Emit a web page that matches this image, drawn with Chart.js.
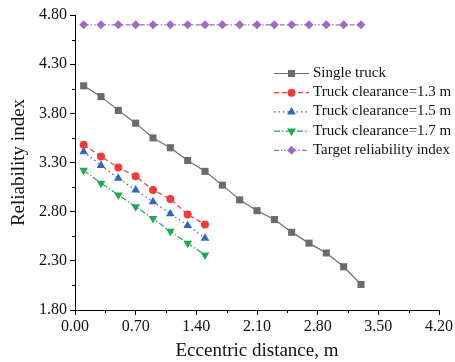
<!DOCTYPE html>
<html>
<head>
<meta charset="utf-8">
<script src="https://cdn.jsdelivr.net/npm/chart.js@4.4.0/dist/chart.umd.min.js"></script>
<style>
  html, body { margin: 0; padding: 0; background: #fff; }
  #wrap { width: 455px; height: 362px; position: relative; }
</style>
</head>
<body>
<div id="wrap"><canvas id="chart"></canvas></div>
<script>
// --- data ---
const singleX = [0.1, 0.3, 0.5, 0.7, 0.9, 1.1, 1.3, 1.5, 1.7, 1.9, 2.1, 2.3, 2.5, 2.7, 2.9, 3.1, 3.3];
const singleTruck = [4.08, 3.97, 3.83, 3.70, 3.55, 3.45, 3.32, 3.21, 3.07, 2.92, 2.81, 2.72, 2.59, 2.48, 2.38, 2.24, 2.06];
const clearanceX = [0.1, 0.3, 0.5, 0.7, 0.9, 1.1, 1.3, 1.5];
const clearance13 = [3.48, 3.36, 3.25, 3.16, 3.02, 2.93, 2.77, 2.67];
const clearance15 = [3.41, 3.27, 3.14, 3.02, 2.90, 2.78, 2.66, 2.53];
const clearance17 = [3.22, 3.09, 2.97, 2.85, 2.73, 2.60, 2.48, 2.36];
const targetIndex = [4.7, 4.7, 4.7, 4.7, 4.7, 4.7, 4.7, 4.7, 4.7, 4.7, 4.7, 4.7, 4.7, 4.7, 4.7, 4.7, 4.7];

const xTicks = [0, 0.7, 1.4, 2.1, 2.8, 3.5, 4.2];
const yTicks = [1.8, 2.3, 2.8, 3.3, 3.8, 4.3, 4.8];

const FONT = "'Liberation Serif', 'Times New Roman', serif";

function toPoints(xs, ys) {
    return ys.map((y, i) => ({ x: xs[i], y: y }));
}

function series(label, xs, ys, color, style, dash, radius, rotation) {
    return {
        label: label,
        data: toPoints(xs, ys),
        borderColor: color,
        backgroundColor: color,
        borderWidth: 1.2,
        borderDash: dash,
        pointStyle: style,
        pointRadius: radius,
        pointRotation: rotation || 0,
        pointBorderWidth: 0,
        pointBackgroundColor: color,
        tension: 0
    };
}

const datasets = [
    series('Single truck', singleX, singleTruck, '#6b6b6d', 'rect', [], 5),
    series('Truck clearance=1.3 m', clearanceX, clearance13, '#ee3b3b', 'circle', [5, 3], 4),
    series('Truck clearance=1.5 m', clearanceX, clearance15, '#3767bd', 'triangle', [1.5, 3], 5),
    series('Truck clearance=1.7 m', clearanceX, clearance17, '#23a655', 'triangle', [6, 2, 1.5, 2], 5, 180),
    series('Target reliability index', singleX, targetIndex, '#9b6cc0', 'rectRot', [5, 2, 1.5, 2, 1.5, 2], 4.5)
];

// minor ticks halfway between the labelled ones
const minorTicks = {
    id: 'minorTicks',
    afterDraw(chart) {
        const ctx = chart.ctx;
        const xs = chart.scales.x, ys = chart.scales.y;
        ctx.save();
        ctx.strokeStyle = '#000';
        ctx.lineWidth = 1;
        ctx.beginPath();
        for (let i = 0; i < xTicks.length - 1; i++) {
            const px = Math.round(xs.getPixelForValue((xTicks[i] + xTicks[i + 1]) / 2)) + 0.5;
            ctx.moveTo(px, xs.top);
            ctx.lineTo(px, xs.top + 3);
        }
        for (let i = 0; i < yTicks.length - 1; i++) {
            const py = Math.round(ys.getPixelForValue((yTicks[i] + yTicks[i + 1]) / 2)) + 0.5;
            ctx.moveTo(ys.right, py);
            ctx.lineTo(ys.right - 3, py);
        }
        ctx.stroke();
        ctx.restore();
    }
};

// legend with line sample + marker, placed inside the plot
const lineLegend = {
    id: 'lineLegend',
    afterDraw(chart) {
        const ctx = chart.ctx;
        const x0 = 274, x1 = 309, textX = 313;
        let y = 73;
        ctx.save();
        chart.data.datasets.forEach(ds => {
            ctx.strokeStyle = ds.borderColor;
            ctx.lineWidth = ds.borderWidth;
            ctx.setLineDash(ds.borderDash);
            ctx.beginPath();
            ctx.moveTo(x0, y + 0.5);
            ctx.lineTo(x1, y + 0.5);
            ctx.stroke();
            ctx.setLineDash([]);
            ctx.fillStyle = ds.pointBackgroundColor;
            Chart.helpers.drawPoint(ctx, {
                pointStyle: ds.pointStyle,
                radius: ds.pointRadius,
                rotation: ds.pointRotation,
                borderWidth: 0
            }, (x0 + x1) / 2, y + 0.5);
            ctx.fillStyle = '#111';
            ctx.font = '15px ' + FONT;
            ctx.textBaseline = 'middle';
            ctx.textAlign = 'left';
            ctx.fillText(ds.label, textX, y);
            y += 19.2;
        });
        ctx.restore();
    }
};

new Chart(document.getElementById('chart'), {
    type: 'line',
    data: { datasets: datasets },
    options: {
        responsive: true,
        maintainAspectRatio: false,
        animation: false,
        layout: { padding: { top: 15, right: 15, left: 0, bottom: 0 } },
        plugins: { legend: { display: false }, tooltip: { enabled: false } },
        scales: {
            x: {
                type: 'linear',
                min: 0,
                max: 4.2,
                afterBuildTicks: s => { s.ticks = xTicks.map(v => ({ value: v })); },
                afterFit: s => { s.height = 52; },
                grid: { drawOnChartArea: false, drawTicks: true, tickLength: 5, color: '#000', tickColor: '#000' },
                border: { display: true, color: '#000', width: 1 },
                ticks: {
                    color: '#111',
                    padding: 2,
                    maxRotation: 0,
                    font: { family: FONT, size: 16 },
                    callback: v => v.toFixed(2)
                },
                title: {
                    display: true,
                    text: 'Eccentric distance, m',
                    color: '#111',
                    font: { family: FONT, size: 19 },
                    padding: { top: 0, bottom: 0 }
                }
            },
            y: {
                type: 'linear',
                min: 1.8,
                max: 4.8,
                afterBuildTicks: s => { s.ticks = yTicks.map(v => ({ value: v })); },
                afterFit: s => { s.width = 75; },
                grid: { drawOnChartArea: false, drawTicks: true, tickLength: 5, color: '#000', tickColor: '#000' },
                border: { display: true, color: '#000', width: 1 },
                ticks: {
                    color: '#111',
                    padding: 3,
                    font: { family: FONT, size: 16 },
                    callback: v => v.toFixed(2)
                },
                title: {
                    display: true,
                    text: 'Reliability index',
                    color: '#111',
                    font: { family: FONT, size: 19 },
                    padding: { top: 8, bottom: 0 }
                }
            }
        }
    },
    plugins: [minorTicks, lineLegend]
});
</script>
</body>
</html>
